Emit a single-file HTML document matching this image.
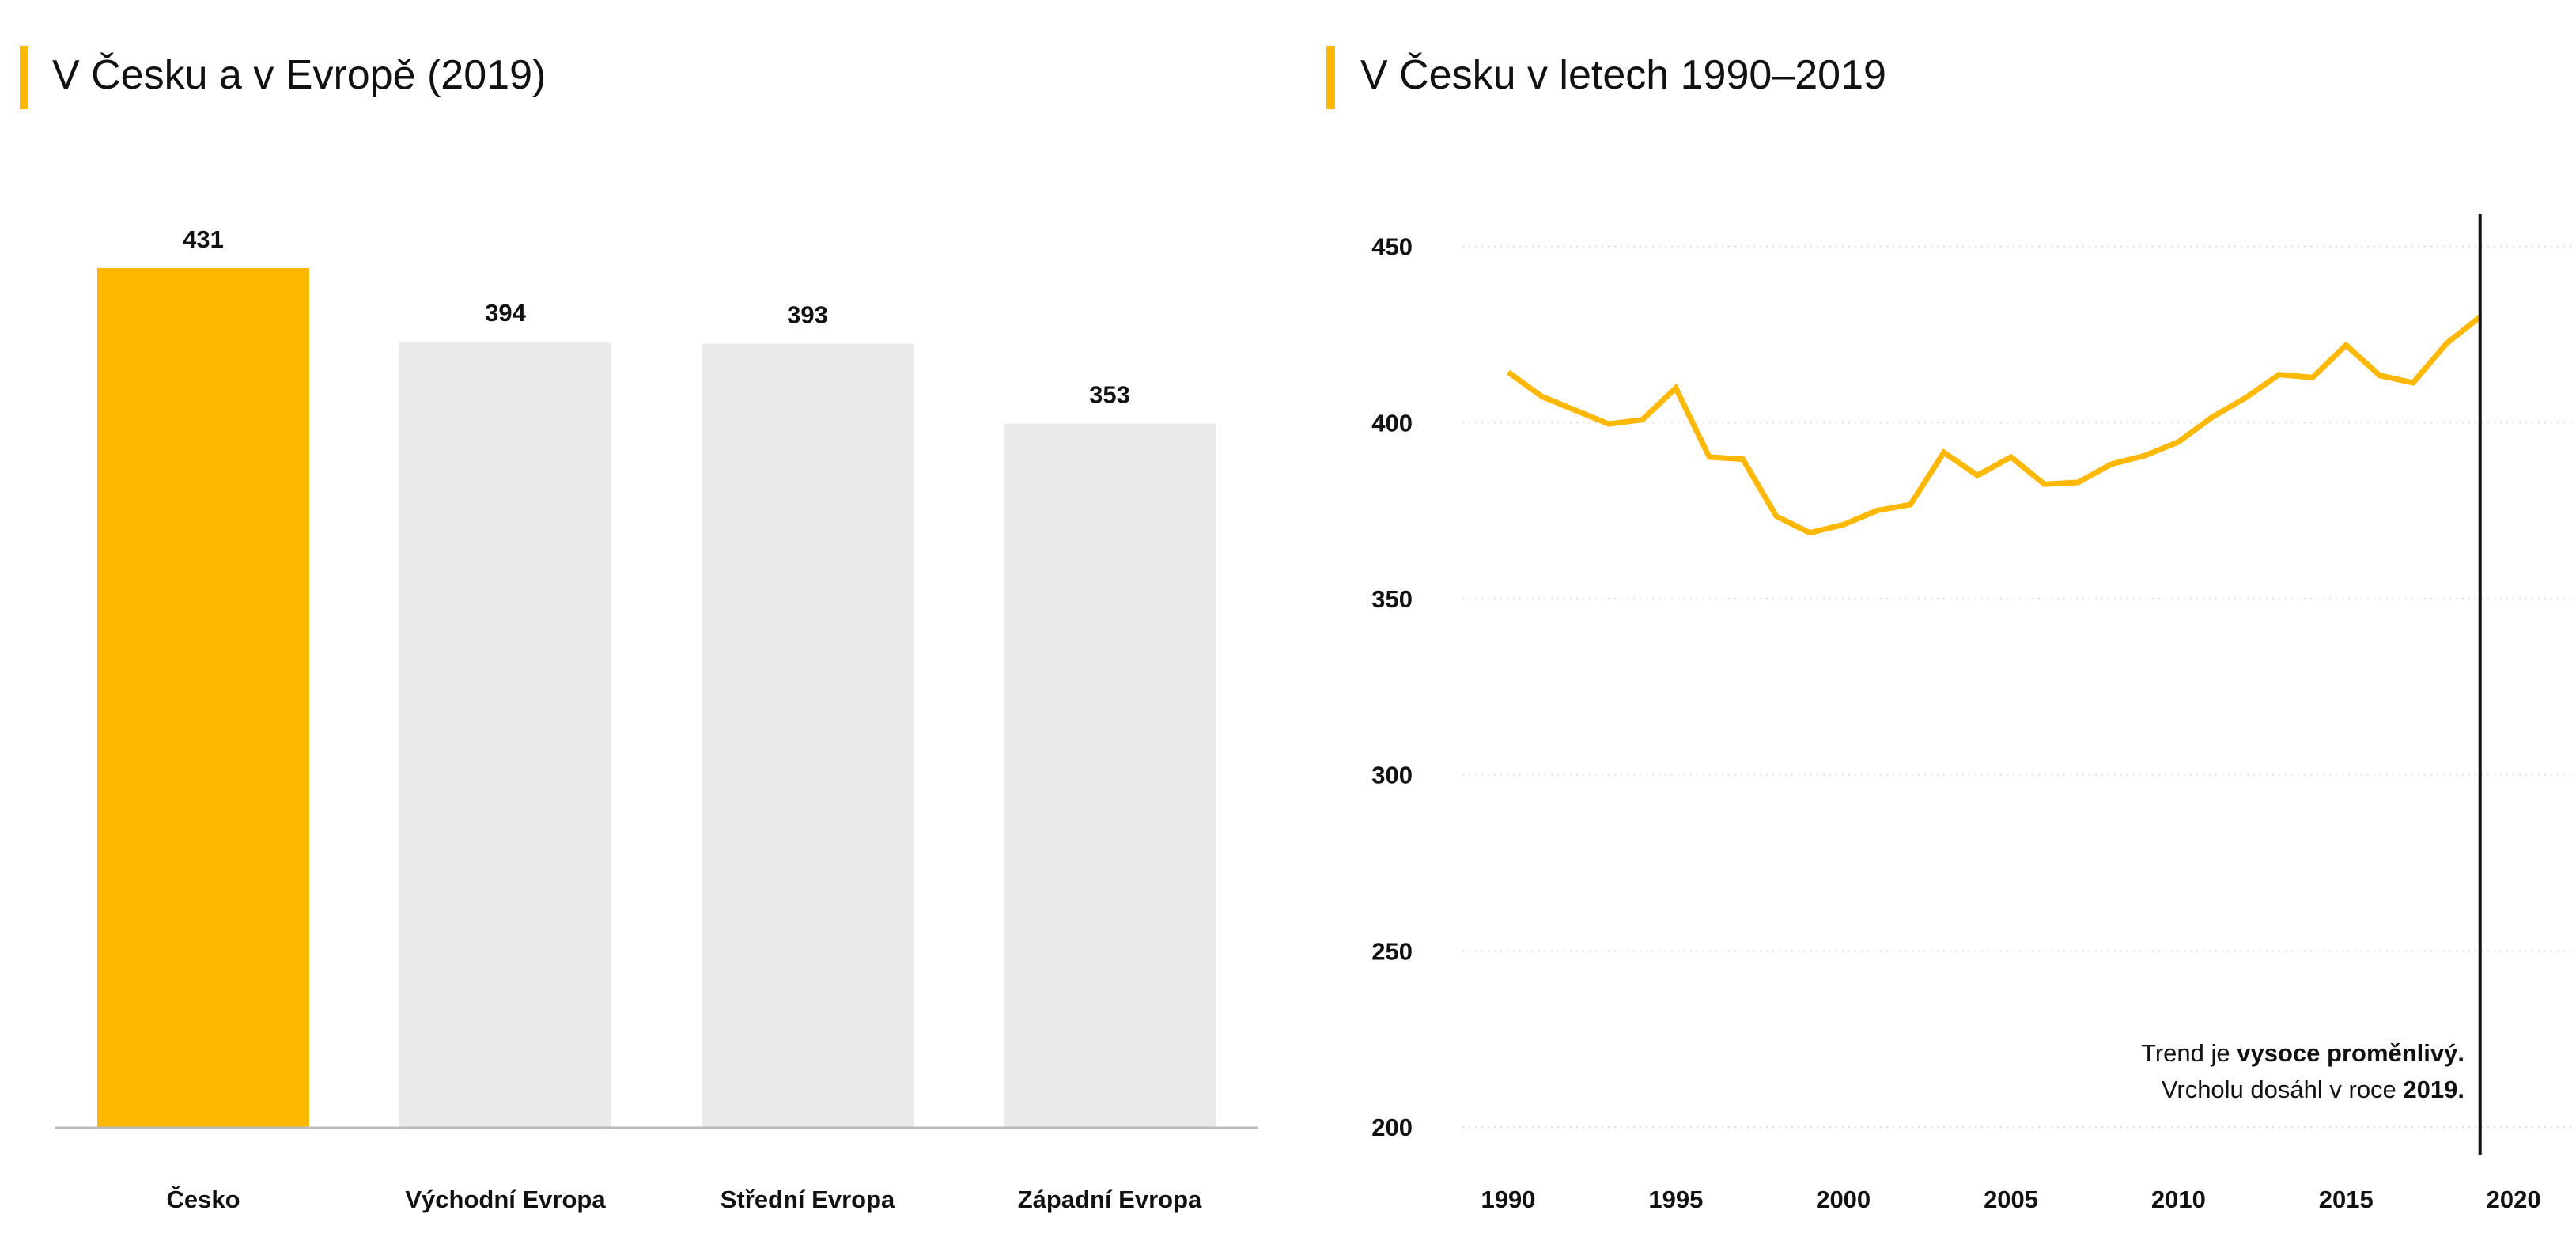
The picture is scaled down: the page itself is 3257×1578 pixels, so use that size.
<!DOCTYPE html>
<html><head><meta charset="utf-8">
<style>
html,body{margin:0;padding:0;background:#fff;}
svg{display:block;font-family:"Liberation Sans",sans-serif;}
</style></head>
<body>
<svg id="chart" width="3257" height="1578" viewBox="0 0 3257 1578">
  <rect x="25" y="58" width="11" height="80" fill="#FFB800"/>
  <text x="66" y="112" font-size="52" fill="#111">V Česku a v Evropě (2019)</text>
  <rect x="1677" y="58" width="11" height="80" fill="#FFB800"/>
  <text x="1720" y="112" font-size="52" fill="#111">V Česku v letech 1990–2019</text>
  <g id="bars"></g>
  <g id="line"></g>
</svg>
<script>
const barCategories = ["Česko", "Východní Evropa", "Střední Evropa", "Západní Evropa"];
const barValues = [431, 394, 393, 353];
const lineYears = [1990,1991,1992,1993,1994,1995,1996,1997,1998,1999,2000,2001,2002,2003,2004,2005,2006,2007,2008,2009,2010,2011,2012,2013,2014,2015,2016,2017,2018,2019];
const lineValues = [414.3,407.4,403.5,399.6,400.8,409.8,390.2,389.6,373.4,368.7,371,375,376.7,391.5,385,390.2,382.5,383,388.2,390.6,394.5,401.5,407,413.6,412.8,422,413.4,411.3,422.5,430];
const yTicks = [200, 250, 300, 350, 400, 450];
const xTicks = [1990, 1995, 2000, 2005, 2010, 2015, 2020];

const NS = "http://www.w3.org/2000/svg";
function mk(parent, tag, attrs, txt){
  const e = document.createElementNS(NS, tag);
  for (const k in attrs) e.setAttribute(k, attrs[k]);
  if (txt !== undefined) e.textContent = txt;
  parent.appendChild(e);
  return e;
}

// Bar chart
const bg = document.getElementById("bars");
const baseY = 1425, pxPerUnit = 1086 / 431;
const barY = v => baseY - v * pxPerUnit;
const barX = i => 123 + i * 382;
const bw = 268;
barCategories.forEach((c, i) => {
  const v = barValues[i];
  const r = mk(bg, "rect", {x: barX(i), y: barY(v), width: bw, height: baseY - barY(v), fill: i === 0 ? "#FFB800" : "#EAEAEA"});
  
  
  const t = mk(bg, "text", {x: barX(i) + bw / 2, y: barY(v) - 26, "font-size": 31, "font-weight": "bold", "text-anchor": "middle", fill: "#111"}, String(v));
  
  
  const l = mk(bg, "text", {x: barX(i) + bw / 2, y: 1527, "font-size": 31, "font-weight": "bold", "text-anchor": "middle", fill: "#111"}, c);
  
  
});
const ax = mk(bg, "line", {x1: 69, x2: 1591, y1: baseY + 1, y2: baseY + 1, stroke: "#bbb", "stroke-width": 3});



// Line chart
const lg = document.getElementById("line");
const yS = v => 311.6 + (450 - v) * (1425 - 311.6) / 250;
const xS = yr => 1907 + (yr - 1990) * 42.37;
yTicks.forEach(v => {
  const g = mk(lg, "line", {x1: 1849, x2: 3257, y1: yS(v), y2: yS(v), stroke: "#ddd", "stroke-width": 2, "stroke-dasharray": "2 6"});
  
  
  const t = mk(lg, "text", {x: 1786, y: yS(v) + 11, "font-size": 31, "font-weight": "bold", "text-anchor": "end", fill: "#111"}, String(v));
  
  
});
xTicks.forEach(yr => {
  const t = mk(lg, "text", {x: xS(yr), y: 1527, "font-size": 31, "font-weight": "bold", "text-anchor": "middle", fill: "#111"}, String(yr));
  
  
});
const pts = lineYears.map((yr, i) => xS(yr).toFixed(1) + "," + yS(lineValues[i]).toFixed(1)).join(" ");
const pl = mk(lg, "polyline", {points: pts, fill: "none", stroke: "#FFB800", "stroke-width": 7, "stroke-linejoin": "miter"});


const vl = mk(lg, "line", {x1: xS(2019), x2: xS(2019), y1: 270, y2: 1460, stroke: "#111", "stroke-width": 4});


const a1 = mk(lg, "text", {x: 3116, y: 1342, "font-size": 31, "text-anchor": "end", fill: "#111"});


a1.innerHTML = 'Trend je <tspan font-weight="bold">vysoce proměnlivý.</tspan>';
const a2 = mk(lg, "text", {x: 3116, y: 1388, "font-size": 31, "text-anchor": "end", fill: "#111"});


a2.innerHTML = 'Vrcholu dosáhl v roce <tspan font-weight="bold">2019.</tspan>';
</script>
</body></html>
